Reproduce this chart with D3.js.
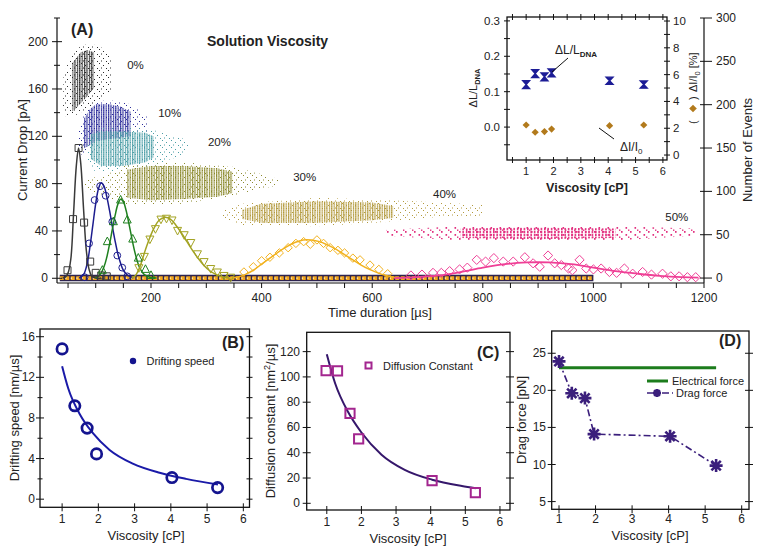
<!DOCTYPE html>
<html><head><meta charset="utf-8">
<script src="https://cdn.jsdelivr.net/npm/d3@7/dist/d3.min.js"></script>
<style>
body{margin:0;background:#fff;}
svg text{font-family:"Liberation Sans",Arial,Helvetica,sans-serif;fill:#222;}
</style></head><body>
<svg id="chart" width="762" height="552"></svg>
<script>
// ================= DATA =================
// Panel A tick labels
const xTicksA = [200, 400, 600, 800, 1000, 1200];
const yTicksA = [0, 40, 80, 120, 160, 200];
const nTicksA = [0, 50, 100, 150, 200, 250, 300];
const pctLabels = ["0%", "10%", "20%", "30%", "40%", "50%"];
const pctPos = [[157, 177], [213, 136], [303, 112], [457, 82], [710, 68], [1130, 48]]; // [time µs, pA] anchors of the labels

// Panel A scatter clouds: outlines [time µs, current drop pA]
const cloud0Core = [[58,182],[73,191],[85,193],[97,191],[97,161],[85,154],[73,148],[58,141]];
const cloud0Halo = [[42,172],[50,182],[60,191],[75,197],[92,198],[108,196],[122,192],[129,184],[129,160],[115,152],[100,147],[80,142],[60,137],[45,137],[41,145]];
const cloud10Core = [[79,135],[90,143],[100,147],[125,147],[145,145],[163,141],[163,120],[130,118],[100,116],[88,112],[79,110]];
const cloud10Halo = [[68,125],[80,140],[100,150],[140,150],[170,146],[192,138],[195,125],[180,118],[140,112],[100,107],[75,104],[68,112]];
const cloud20Core = [[91,122],[110,124],[150,124],[190,123],[205,120],[205,102],[190,98],[150,95],[110,95],[91,101]];
const cloud20Halo = [[84,118],[100,127],[150,128],[200,126],[230,122],[262,118],[268,112],[262,104],[230,100],[200,93],[150,90],[100,90],[84,97]];
const cloud30Core = [[157,92],[200,95],[260,95],[320,93],[348,90],[348,72],[320,69],[260,67],[200,66],[157,68]];
const cloud30Halo = [[80,83],[120,88],[157,96],[260,98],[350,94],[400,88],[430,84],[430,78],[400,76],[350,70],[260,63],[157,62],[120,68],[80,74]];
const cloud40Core = [[365,58],[400,63],[500,65],[600,64],[638,61],[638,51],[600,49],[500,47],[400,47],[365,50]];
const cloud40Halo = [[330,57],[365,63],[500,68],[640,66],[720,64],[800,62],[800,52],[720,52],[640,48],[500,44],[365,45],[330,50]];
const cloud50Core = [[760,42],[900,43],[1040,42],[1040,34],[900,33],[760,34]];
const cloud50Halo = [[625,41],[760,44],[1040,44],[1185,42],[1185,36],[1040,32],[760,32],[625,36]];

// Panel A histograms: markers [time µs, number of events]
const hist0 = [[49,9],[59,68],[69,150],[79,64],[90,19],[100,6],[110,3],[120,2]];
const hist10 = [[80,1],[88,40],[98,90],[108,106],[118,95],[130,65],[139,26],[148,12],[157,2]];
const hist20 = [[112,9],[121,42],[132,65],[145,90],[157,67],[167,45],[177,23],[190,10],[200,3]];
const hist30 = [[178,12],[188,25],[198,45],[208,57],[218,68],[228,69],[238,67],[248,55],[260,50],[272,41],[284,28],[296,19],[308,11],[320,7],[332,3],[344,1]];
const hist40 = [[368,7],[385,13],[400,20],[415,24],[432,29],[448,35],[462,40],[476,42],[488,39],[500,44],[512,40],[524,35],[538,32],[550,29],[565,23],[578,21],[596,15],[612,10],[628,5]];
const hist50 = [[670,3],[690,4],[710,6],[725,6],[740,8],[758,10],[772,12],[789,21],[805,19],[820,23],[837,19],[855,19],[876,24],[891,17],[903,13],[918,26],[930,17],[942,15],[955,11],[962,9],[975,21],[987,11],[1000,10],[1014,11],[1029,7],[1042,6],[1056,11],[1071,5],[1089,7],[1105,4],[1125,5],[1140,2],[1155,2],[1170,1],[1185,1]];
// Panel A fitted curves
const fit0 = [[40,0],[45,1],[50,6],[55,22],[60,75],[65,130],[69,150],[73,132],[78,80],[83,32],[88,10],[93,2],[100,0],[110,0]];
const fit10 = [[70,0],[78,4],[85,18],[90,38],[95,62],[100,86],[105,103],[110,110],[115,106],[120,94],[125,78],[130,60],[135,43],[140,28],[145,17],[150,9],[158,3],[168,0]];
const fit20 = [[100,0],[108,4],[115,13],[120,24],[125,39],[130,56],[135,72],[140,85],[145,91],[150,88],[155,78],[160,63],[165,47],[170,32],[175,20],[180,11],[188,4],[198,1],[210,0]];
const fit30 = [[165,0],[172,3],[180,13],[187,27],[195,42],[205,57],[215,67],[225,70],[235,68],[245,61],[255,52],[265,42],[275,32],[285,23],[295,15],[305,9],[318,4],[332,1],[350,0]];
const fit40 = [[340,0],[355,1],[370,4],[385,9],[400,16],[415,23],[430,30],[445,36],[460,41],[475,44],[490,44],[505,42],[520,38],[535,33],[550,27],[565,21],[580,15],[595,10],[610,6],[625,3],[640,1],[660,0]];
const fit50 = [[640,0],[680,1],[720,3],[760,7],[800,12],[840,16],[880,18],[920,18],[960,16],[1000,12],[1040,8],[1080,5],[1120,2.5],[1160,1],[1190,0.5]];
const zeroBand = [35, 1000]; // time range of the zero-count bins

// Inset
const insetVisc = [1.0, 1.33, 1.67, 1.93, 4.05, 5.3];
const dLL = [0.12, 0.151, 0.142, 0.153, 0.131, 0.12];
const dLLerr = [0.011, 0.011, 0.011, 0.011, 0.01, 0.01];
const dII = [2.24, 1.70, 1.75, 1.94, 2.19, 2.24];
const insetXTicks = [1, 2, 3, 4, 5, 6];
const insetYTicks = [0.0, 0.1, 0.2, 0.3];
const insetY2Ticks = [0, 2, 4, 6, 8, 10];

// Panel B
const speedVisc = [1.0, 1.35, 1.69, 1.95, 4.03, 5.29];
const speed = [14.8, 9.2, 7.0, 4.46, 2.13, 1.14];
const speedFit = [[1.0,13.1],[1.17,10.9],[1.5,8.3],[1.85,6.5],[2.31,4.85],[2.95,3.5],[3.69,2.6],[4.42,2.0],[5.3,1.45]];
const yTicksB = [0, 4, 8, 12, 16];
// Panel C
const diffVisc = [0.98, 1.31, 1.67, 1.92, 4.04, 5.29];
const diffConst = [105, 104.7, 71.2, 50.9, 17.9, 8.4];
const diffFit = [[1.0,118],[1.24,95],[1.62,72],[2.0,56],[2.58,38.5],[3.25,26.5],[4.04,18.7],[4.9,13.7],[5.3,11.9]];
const yTicksC = [0, 20, 40, 60, 80, 100, 120];
// Panel D
const dragVisc = [1.0, 1.35, 1.71, 1.96, 4.04, 5.3];
const dragForce = [23.9, 19.6, 18.95, 14.1, 13.8, 9.85];
const electricalForce = 23.05;
const elecRange = [1.0, 5.3];
const yTicksD = [5, 10, 15, 20, 25];
const viscTicks = [1, 2, 3, 4, 5, 6];

// ================= DRAWING =================
const svg = d3.select("#chart");
const defs = svg.append("defs");
const INK = "#111";

function tickH(g, x0, scale, vals, a, b, w) {
  g.append("g").selectAll("line").data(vals).join("line")
    .attr("x1", x0 - a).attr("x2", x0 + b)
    .attr("y1", d => scale(d)).attr("y2", d => scale(d))
    .attr("stroke", INK).attr("stroke-width", w || 1);
}
function tickV(g, y0, scale, vals, a, b, w) {
  g.append("g").selectAll("line").data(vals).join("line")
    .attr("y1", y0 - a).attr("y2", y0 + b)
    .attr("x1", d => scale(d)).attr("x2", d => scale(d))
    .attr("stroke", INK).attr("stroke-width", w || 1);
}
function labels(g, vals, xf, yf, anchor, fmt, size) {
  g.append("g").selectAll("text").data(vals).join("text")
    .attr("x", xf).attr("y", yf).attr("text-anchor", anchor)
    .attr("font-size", size || 12).text(fmt);
}
function line(g, x1, y1, x2, y2, w) {
  g.append("line").attr("x1", x1).attr("y1", y1).attr("x2", x2).attr("y2", y2)
    .attr("stroke", INK).attr("stroke-width", w || 1.2);
}
function vtext(g, x, y, str, size, anchor) {
  return g.append("text").attr("transform", `translate(${x},${y}) rotate(-90)`)
    .attr("text-anchor", anchor || "middle").attr("font-size", size).text(str);
}

// ---------- Panel A ----------
const xA = d3.scaleLinear().domain([30, 1200]).range([57, 704]);
const yA = d3.scaleLinear().domain([-4, 220]).range([283, 18]);
const yN = d3.scaleLinear().domain([-5.7, 300]).range([283, 18]);
const gA = svg.append("g");

function pattern(id, color, w, h, rects) {
  const p = defs.append("pattern").attr("id", id).attr("patternUnits", "userSpaceOnUse")
    .attr("width", w).attr("height", h);
  rects.forEach(r => p.append("rect").attr("x", r[0]).attr("y", r[1]).attr("width", r[2]).attr("height", r[3]).attr("fill", color));
}
const cloudColors = ["#2a2a2a", "#2c2c9a", "#4c9ea6", "#8c8a2e", "#b39a3e", "#e2307f"];
const clouds = [
  [cloud0Halo, cloud0Core], [cloud10Halo, cloud10Core], [cloud20Halo, cloud20Core],
  [cloud30Halo, cloud30Core], [cloud40Halo, cloud40Core], [cloud50Halo, cloud50Core]
];
const poly = d3.line().x(d => xA(d[0])).y(d => yA(d[1])).curve(d3.curveLinearClosed);
clouds.forEach((c, i) => {
  const col = cloudColors[i];
  if (i === 5) {
    pattern("core" + i, col, 3.4, 3, [[0, 0, 1.6, 2.4]]);
    pattern("halo" + i, col, 9, 7, [[0, 0, 1.6, 1.8], [4.5, 3, 1.6, 1.8], [7, 5.5, 1.4, 1.4]]);
  } else {
    pattern("core" + i, col, 2.4, 2, [[0, 0, 1.2, 1.85]]);
    pattern("halo" + i, col, 9, 7, [[0, 0, 1, 1], [4, 2, 1, 1], [7, 5, 1, 1], [2, 4.5, 1, 1]]);
  }
  gA.append("path").attr("d", poly(c[0])).attr("fill", `url(#halo${i})`);
  gA.append("path").attr("d", poly(c[1])).attr("fill", `url(#core${i})`);
});

// zero-count band
gA.append("line").attr("x1", xA(zeroBand[0])).attr("x2", xA(zeroBand[1]))
  .attr("y1", yN(0)).attr("y2", yN(0)).attr("stroke", "#2e2450").attr("stroke-width", 6.5);
gA.append("line").attr("x1", xA(zeroBand[0])).attr("x2", xA(zeroBand[1]))
  .attr("y1", yN(0)).attr("y2", yN(0)).attr("stroke", "#f2a51c").attr("stroke-width", 3.8)
  .attr("stroke-dasharray", "4,1.5");
gA.append("line").attr("x1", xA(zeroBand[0])).attr("x2", xA(zeroBand[1]))
  .attr("y1", yN(0)).attr("y2", yN(0)).attr("stroke", "#fff6c8").attr("stroke-width", 1.3)
  .attr("stroke-dasharray", "1.3,4.2");

// fits and markers
const histColors = ["#3a3a3a", "#1c1c8e", "#1f801f", "#a3a322", "#f2b21e", "#ef3f96"];
const fits = [fit0, fit10, fit20, fit30, fit40, fit50];
const hists = [hist0, hist10, hist20, hist30, hist40, hist50];
const fitLine = d3.line().x(d => xA(d[0])).y(d => yN(d[1])).curve(d3.curveCatmullRom.alpha(0.5));
fits.forEach((f, i) => {
  gA.append("path").attr("d", fitLine(f)).attr("fill", "none")
    .attr("stroke", histColors[i]).attr("stroke-width", i === 5 ? 1.8 : 1.5);
});
function markerPath(kind, s) {
  if (kind === "square") return `M${-s},${-s}H${s}V${s}H${-s}Z`;
  if (kind === "triUp") return `M0,${-s * 1.15}L${s},${s * 0.75}L${-s},${s * 0.75}Z`;
  if (kind === "triDown") return `M0,${s * 1.15}L${s},${-s * 0.75}L${-s},${-s * 0.75}Z`;
  if (kind === "diamond") return `M0,${-s}L${s},0L0,${s}L${-s},0Z`;
  return "";
}
const kinds = ["square", "circle", "triUp", "triDown", "diamond", "diamond"];
const sizes = [3.5, 3.4, 4, 4, 4.2, 4.6];
hists.forEach((h, i) => {
  const g = gA.append("g");
  if (kinds[i] === "circle") {
    g.selectAll("circle").data(h).join("circle").attr("cx", d => xA(d[0])).attr("cy", d => yN(d[1]))
      .attr("r", sizes[i]).attr("fill", "none").attr("stroke", histColors[i]).attr("stroke-width", 1);
  } else {
    g.selectAll("path").data(h).join("path")
      .attr("transform", d => `translate(${xA(d[0])},${yN(d[1])})`)
      .attr("d", markerPath(kinds[i], sizes[i])).attr("fill", "none")
      .attr("stroke", histColors[i]).attr("stroke-width", 1);
  }
});

// axes A
line(gA, 57, 18, 57, 283);
line(gA, 57, 283, 704, 283);
line(gA, 704, 18, 704, 283);
tickH(gA, 57, yA, yTicksA, 5, 5);
tickH(gA, 57, yA, [20, 60, 100, 140, 180, 220], 3, 3);
labels(gA, yTicksA, 48, d => yA(d) + 4, "end", d => d, 12);
tickV(gA, 283, xA, d3.range(50, 1201, 50), 0, 5);
labels(gA, xTicksA, d => xA(d), 302, "middle", d => d, 12);
tickH(gA, 704, yN, nTicksA, 4, 8);
labels(gA, nTicksA, 716, d => yN(d) + 4, "start", d => d, 12);
vtext(gA, 27, 150, "Current Drop [pA]", 13);
vtext(gA, 752, 150, "Number of Events", 13);
gA.append("text").attr("x", 380).attr("y", 317).attr("text-anchor", "middle").attr("font-size", 13).text("Time duration [µs]");
gA.append("text").attr("x", 71).attr("y", 35).attr("font-size", 16).attr("font-weight", "bold").text("(A)");
gA.append("text").attr("x", 207).attr("y", 46).attr("font-size", 14).attr("font-weight", "bold").text("Solution Viscosity");
gA.append("g").selectAll("text").data(pctLabels).join("text")
  .attr("x", (d, i) => xA(pctPos[i][0])).attr("y", (d, i) => yA(pctPos[i][1]))
  .attr("font-size", 11.5).text(d => d);

// ---------- Inset ----------
const xI = d3.scaleLinear().domain([0.3, 6.15]).range([507, 667]);
const yI = d3.scaleLinear().domain([-0.093, 0.311]).range([160, 17]);
const yI2 = d3.scaleLinear().domain([-0.37, 10.3]).range([160, 17]);
const gI = svg.append("g");
gI.append("rect").attr("x", 507).attr("y", 17).attr("width", 160).attr("height", 143)
  .attr("fill", "#fff").attr("stroke", INK).attr("stroke-width", 1.3);
tickV(gI, 160, xI, d3.range(0.5, 6.01, 0.5), 3, 3);
tickV(gI, 17, xI, d3.range(0.5, 6.01, 0.5), 3, 3);
tickH(gI, 507, yI, d3.range(-0.05, 0.301, 0.05), 3, 3);
tickH(gI, 667, yI2, d3.range(0, 10.01, 1), 3, 3);
labels(gI, insetXTicks, d => xI(d), 175, "middle", d => d, 11);
labels(gI, insetYTicks, 500, d => yI(d) + 4, "end", d => d3.format(".1f")(d), 11.5);
labels(gI, insetY2Ticks, 673, d => yI2(d) + 4, "start", d => d, 11.5);
gI.append("text").attr("x", 587).attr("y", 192).attr("text-anchor", "middle")
  .attr("font-size", 12.5).attr("font-weight", "bold").text("Viscosity [cP]");
// bowties
gI.append("g").selectAll("path").data(insetVisc).join("path")
  .attr("d", (d, i) => {
    const x = xI(d), yt = yI(dLL[i] + dLLerr[i]), yb = yI(dLL[i] - dLLerr[i]), ym = yI(dLL[i]);
    return `M${x - 3.4},${yt}L${x + 3.4},${yt}L${x},${ym}L${x + 3.4},${yb}L${x - 3.4},${yb}L${x},${ym}Z`;
  }).attr("fill", "#1c1c96").attr("stroke", "#1c1c96").attr("stroke-width", 1.4);
gI.append("g").selectAll("path").data(insetVisc).join("path")
  .attr("transform", (d, i) => `translate(${xI(d)},${yI2(dII[i])})`)
  .attr("d", markerPath("diamond", 3.6)).attr("fill", "#b27a1c");
// annotations
const t1 = gI.append("text").attr("x", 555).attr("y", 54).attr("font-size", 12);
t1.append("tspan").text("ΔL/L");
t1.append("tspan").attr("dy", 3).attr("font-size", 8).attr("font-weight", "bold").text("DNA");
line(gI, 568, 58, 552, 72, 1);
const t2 = gI.append("text").attr("x", 620).attr("y", 151).attr("font-size", 12);
t2.append("tspan").text("ΔI/I");
t2.append("tspan").attr("dy", 3).attr("font-size", 8).text("0");
line(gI, 614, 139, 599, 128, 1);
const lv = gI.append("text").attr("transform", "translate(477,88) rotate(-90)").attr("text-anchor", "middle").attr("font-size", 11);
lv.append("tspan").text("ΔL/L");
lv.append("tspan").attr("dy", 3).attr("font-size", 7.5).attr("font-weight", "bold").text("DNA");
const rg = gI.append("g").attr("transform", "translate(697,0) rotate(-90)");
rg.append("text").attr("x", -124).attr("y", 0).attr("font-size", 11).text("(");
rg.append("text").attr("x", -100).attr("y", 0).attr("font-size", 11).text(")");
const rv = rg.append("text").attr("x", -92).attr("y", 0).attr("font-size", 11);
rv.append("tspan").text("ΔI/I");
rv.append("tspan").attr("dy", 3).attr("font-size", 7.5).text("0");
rv.append("tspan").attr("dy", -3).text(" [%]");
gI.append("path").attr("transform", "translate(693,108.5)").attr("d", markerPath("diamond", 3.8)).attr("fill", "#b27a1c");

// ---------- Small panel helper ----------
function framePanel(g, x0, x1, y0, y1) {
  g.append("rect").attr("x", x0).attr("y", y0).attr("width", x1 - x0).attr("height", y1 - y0)
    .attr("fill", "none").attr("stroke", INK).attr("stroke-width", 1.3);
}

// ---------- Panel B ----------
const xB = d3.scaleLinear().domain([0.39, 6.17]).range([40, 249.5]);
const yB = d3.scaleLinear().domain([-0.8, 16.76]).range([507.3, 329]);
const gB = svg.append("g");
framePanel(gB, 40, 249.5, 329, 507.3);
tickH(gB, 40, yB, yTicksB, 4, 4);
tickH(gB, 40, yB, [2, 6, 10, 14], 2.5, 2.5);
tickH(gB, 249.5, yB, [0, 2, 4, 6, 8, 10, 12, 14, 16], 3, 3);
tickV(gB, 507.3, xB, viscTicks, 4, 4);
labels(gB, yTicksB, 35, d => yB(d) + 4, "end", d => d, 12);
labels(gB, viscTicks, d => xB(d), 523, "middle", d => d, 12);
gB.append("path").attr("d", d3.line().x(d => xB(d[0])).y(d => yB(d[1])).curve(d3.curveMonotoneX)(speedFit))
  .attr("fill", "none").attr("stroke", "#1a1aa8").attr("stroke-width", 2);
gB.append("g").selectAll("circle").data(speedVisc).join("circle")
  .attr("cx", d => xB(d)).attr("cy", (d, i) => yB(speed[i])).attr("r", 5.2)
  .attr("fill", "none").attr("stroke", "#14148f").attr("stroke-width", 2.7);
gB.append("circle").attr("cx", 133).attr("cy", 361).attr("r", 3.2).attr("fill", "#14148f");
gB.append("text").attr("x", 146.5).attr("y", 365).attr("font-size", 11).text("Drifting speed");
gB.append("text").attr("x", 222).attr("y", 348).attr("font-size", 16).attr("font-weight", "bold").text("(B)");
vtext(gB, 19, 418, "Drifting speed [nm/µs]", 13);
gB.append("text").attr("x", 146).attr("y", 540).attr("text-anchor", "middle").attr("font-size", 13).text("Viscosity [cP]");

// ---------- Panel C ----------
const xC = d3.scaleLinear().domain([0.42, 6.29]).range([306.7, 510]);
const yC = d3.scaleLinear().domain([-5.3, 135.3]).range([510, 332.3]);
const gC = svg.append("g");
framePanel(gC, 306.7, 510, 332.3, 510);
tickH(gC, 306.7, yC, yTicksC, 4, 4);
tickH(gC, 510, yC, yTicksC, 4, 4);
tickV(gC, 510, xC, viscTicks, 4, 4);
labels(gC, yTicksC, 300, d => yC(d) + 4, "end", d => d, 12);
labels(gC, viscTicks, d => xC(d), 526, "middle", d => d, 12);
gC.append("path").attr("d", d3.line().x(d => xC(d[0])).y(d => yC(d[1])).curve(d3.curveMonotoneX)(diffFit))
  .attr("fill", "none").attr("stroke", "#35176b").attr("stroke-width", 2);
gC.append("g").selectAll("path").data(diffVisc).join("path")
  .attr("transform", (d, i) => `translate(${xC(d)},${yC(diffConst[i])})`)
  .attr("d", markerPath("square", 4.6)).attr("fill", "none").attr("stroke", "#a3268f").attr("stroke-width", 2);
gC.append("path").attr("transform", "translate(368.5,365.5)").attr("d", markerPath("square", 3))
  .attr("fill", "none").attr("stroke", "#a3268f").attr("stroke-width", 2);
gC.append("text").attr("x", 383).attr("y", 369.5).attr("font-size", 11).text("Diffusion Constant");
gC.append("text").attr("x", 477).attr("y", 358).attr("font-size", 16).attr("font-weight", "bold").text("(C)");
const cl = gC.append("text").attr("transform", "translate(275,421) rotate(-90)").attr("text-anchor", "middle").attr("font-size", 13);
cl.append("tspan").text("Diffusion constant [nm");
cl.append("tspan").attr("dy", -5).attr("font-size", 9).text("2");
cl.append("tspan").attr("dy", 5).text("/µs]");
gC.append("text").attr("x", 408).attr("y", 543).attr("text-anchor", "middle").attr("font-size", 13).text("Viscosity [cP]");

// ---------- Panel D ----------
const xD = d3.scaleLinear().domain([0.8, 6.2]).range([551.7, 749]);
const yD = d3.scaleLinear().domain([3.96, 28.0]).range([509.3, 331]);
const gD = svg.append("g");
framePanel(gD, 551.7, 749, 331, 509.3);
tickH(gD, 551.7, yD, yTicksD, 4, 4);
tickH(gD, 749, yD, yTicksD, 4, 4);
tickV(gD, 509.3, xD, viscTicks, 4, 4);
labels(gD, yTicksD, 546, d => yD(d) + 4, "end", d => d, 12);
labels(gD, viscTicks, d => xD(d), 523, "middle", d => d, 12);
gD.append("line").attr("x1", xD(elecRange[0])).attr("x2", xD(elecRange[1]))
  .attr("y1", yD(electricalForce)).attr("y2", yD(electricalForce))
  .attr("stroke", "#1c7c1c").attr("stroke-width", 3);
gD.append("path").attr("d", d3.line().x(d => xD(d)).y((d, i) => yD(dragForce[i]))(dragVisc))
  .attr("fill", "none").attr("stroke", "#3b1f7c").attr("stroke-width", 1.6).attr("stroke-dasharray", "7,3,2,3");
function asterisk(g, x, y, r) {
  const p = `M${-r},0H${r}M0,${-r}V${r}M${-r * 0.72},${-r * 0.72}L${r * 0.72},${r * 0.72}M${-r * 0.72},${r * 0.72}L${r * 0.72},${-r * 0.72}`;
  g.append("path").attr("transform", `translate(${x},${y})`).attr("d", p)
    .attr("stroke", "#3b1f7c").attr("stroke-width", 2.6).attr("fill", "none");
}
dragVisc.forEach((d, i) => asterisk(gD, xD(d), yD(dragForce[i]), 6.5));
gD.append("line").attr("x1", 647).attr("x2", 668).attr("y1", 381).attr("y2", 381).attr("stroke", "#1c7c1c").attr("stroke-width", 3);
gD.append("text").attr("x", 672).attr("y", 384.5).attr("font-size", 11).text("Electrical force");
gD.append("line").attr("x1", 647).attr("x2", 673).attr("y1", 393).attr("y2", 393)
  .attr("stroke", "#3b1f7c").attr("stroke-width", 1.6).attr("stroke-dasharray", "7,3,2,3");
asterisk(gD, 657, 393, 4);
gD.append("text").attr("x", 676).attr("y", 397).attr("font-size", 11).text("Drag force");
gD.append("text").attr("x", 719).attr("y", 346).attr("font-size", 16).attr("font-weight", "bold").text("(D)");
vtext(gD, 526, 420, "Drag force [pN]", 13);
gD.append("text").attr("x", 650).attr("y", 540).attr("text-anchor", "middle").attr("font-size", 13).text("Viscosity [cP]");
</script>
</body></html>
